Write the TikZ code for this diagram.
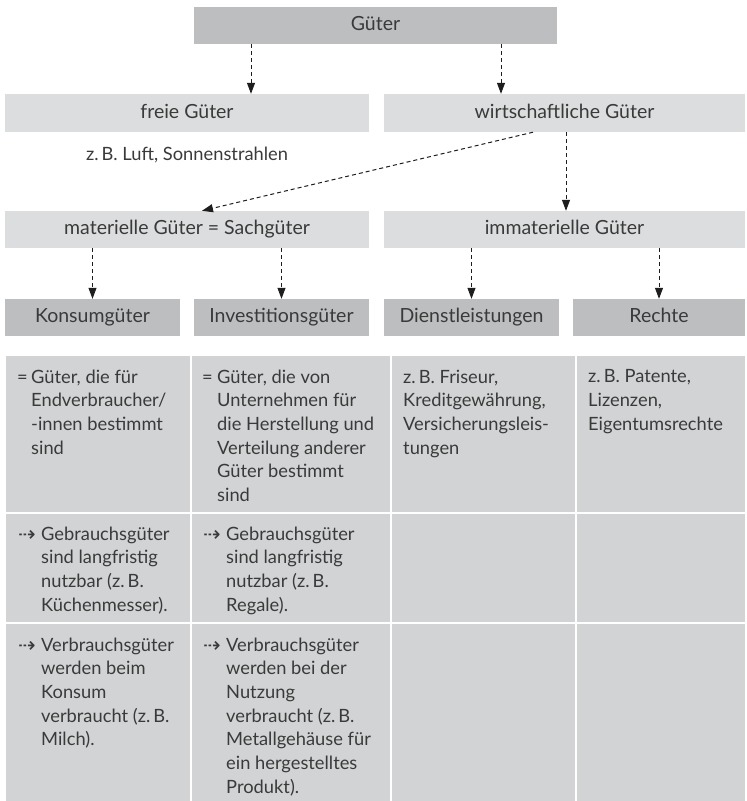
\documentclass[tikz,border=0pt]{standalone}
\usepackage{fontspec}
\setmainfont{Lato}
\newfontfamily\symfont{DejaVu Sans}
\usetikzlibrary{arrows.meta}
\definecolor{darkfill}{HTML}{BCBEC0}
\definecolor{lightfill}{HTML}{DCDDDE}
\definecolor{cellfill}{HTML}{D1D3D4}
\definecolor{ink}{HTML}{3A3A3A}
\definecolor{arrowink}{HTML}{1E1E1E}
\begin{document}
\begin{tikzpicture}[x=1pt,y=-1pt,
  lbl/.style={inner sep=0pt, text=ink, font=\fontsize{19.5}{23.7}\selectfont, text height=14pt, text depth=4pt},
  darkbox/.style={lbl, fill=darkfill},
  lightbox/.style={lbl, fill=lightfill},
  cellbox/.style={fill=cellfill, draw=none, inner sep=0pt, anchor=north west},
  txt/.style={inner sep=0pt, text=ink, font=\fontsize{18.3}{23.7}\selectfont, align=left, anchor=north west},
  sym/.style={inner sep=0pt, text=ink, font=\fontsize{18.3}{23.7}\selectfont, anchor=base west},
  arrsym/.style={inner sep=0pt, text=ink, font=\symfont\fontsize{21}{24}\selectfont, anchor=base west},
  arr/.style={draw=arrowink, line width=1pt, dash pattern=on 4pt off 3pt, -{Triangle[length=11pt,width=8pt]}}
]
\useasboundingbox (0,0) rectangle (747,801);

% hierarchy boxes
\node[darkbox, minimum width=363pt, minimum height=37pt] (guter) at (375.5,25.5) {Güter};
\node[lightbox, minimum width=364pt, minimum height=38pt] (freie) at (187,113) {freie Güter};
\node[lightbox, minimum width=361pt, minimum height=38pt] (wirt) at (564.5,113) {wirtschaftliche Güter};
\node[inner sep=0pt, text=ink, font=\fontsize{18.3}{23.7}\selectfont] (zb) at (187,155) {z.\,B. Luft, Sonnenstrahlen};
\node[lightbox, minimum width=364pt, minimum height=37pt] (mat) at (187,229.5) {materielle Güter = Sachgüter};
\node[lightbox, minimum width=361pt, minimum height=37pt] (immat) at (564.5,229.5) {immaterielle Güter};

\node[darkbox, minimum width=175pt, minimum height=37pt] (konsum) at (92.5,317.5) {Konsumgüter};
\node[darkbox, minimum width=175pt, minimum height=37pt] (invest) at (281.5,317.5) {Investitionsgüter};
\node[darkbox, minimum width=175pt, minimum height=37pt] (dienst) at (471.5,317.5) {Dienstleistungen};
\node[darkbox, minimum width=172pt, minimum height=37pt] (rechte) at (659,317.5) {Rechte};

% connector x positions
\coordinate (xa) at (251,0);
\coordinate (xb) at (501,0);
\coordinate (xc) at (566,0);
\coordinate (xd) at (533,0);
\coordinate (xe) at (202,0);

\draw[arr] (guter.south -| xa) -- (freie.north -| xa);
\draw[arr] (guter.south -| xb) -- (wirt.north -| xb);
\draw[arr] (wirt.south -| xc) -- (immat.north -| xc);
\draw[arr] (wirt.south -| xd) -- (mat.north -| xe);
\draw[arr] (mat.south -| konsum) -- (konsum.north);
\draw[arr] (mat.south -| invest) -- (invest.north);
\draw[arr] (immat.south -| dienst) -- (dienst.north);
\draw[arr] (immat.south -| rechte) -- (rechte.north);

% table cells
\node[cellbox, minimum width=184pt, minimum height=156pt] (c11) at (6,356) {};
\node[cellbox, minimum width=198pt, minimum height=156pt] (c12) at (192,356) {};
\node[cellbox, minimum width=183pt, minimum height=156pt] (c13) at (392,356) {};
\node[cellbox, minimum width=168pt, minimum height=156pt] (c14) at (577,356) {};
\node[cellbox, minimum width=184pt, minimum height=108pt] (c21) at (6,514) {};
\node[cellbox, minimum width=198pt, minimum height=108pt] (c22) at (192,514) {};
\node[cellbox, minimum width=183pt, minimum height=108pt] (c23) at (392,514) {};
\node[cellbox, minimum width=168pt, minimum height=108pt] (c24) at (577,514) {};
\node[cellbox, minimum width=184pt, minimum height=177pt] (c31) at (6,624) {};
\node[cellbox, minimum width=198pt, minimum height=177pt] (c32) at (192,624) {};
\node[cellbox, minimum width=183pt, minimum height=177pt] (c33) at (392,624) {};
\node[cellbox, minimum width=168pt, minimum height=177pt] (c34) at (577,624) {};

% row 1
\node[sym] (s11) at (17,383) {=};
\node[txt] (t11) at (31,369.5) {Güter, die für\\Endverbraucher/\\-innen bestimmt\\sind};
\node[sym] (s12) at (202,383) {=};
\node[txt] (t12) at (217,369.5) {Güter, die von\\Unternehmen für\\die Herstellung und\\Verteilung anderer\\Güter bestimmt\\sind};
\node[txt] (t13) at (403,369.5) {z.\,B. Friseur,\\Kreditgewährung,\\Versicherungsleis-\\tungen};
\node[txt] (t14) at (588,369.5) {z.\,B. Patente,\\Lizenzen,\\Eigentumsrechte};

% row 2
\node[arrsym] (s21) at (18,541) {⇢};
\node[txt] (t21) at (41,526.5) {Gebrauchsgüter\\sind langfristig\\nutzbar (z.\,B.\\Küchenmesser).};
\node[arrsym] (s22) at (203,541) {⇢};
\node[txt] (t22) at (226,526.5) {Gebrauchsgüter\\sind langfristig\\nutzbar (z.\,B.\\Regale).};

% row 3
\node[arrsym] (s31) at (18,652) {⇢};
\node[txt] (t31) at (41,637.5) {Verbrauchsgüter\\werden beim\\Konsum\\verbraucht (z.\,B.\\Milch).};
\node[arrsym] (s32) at (203,652) {⇢};
\node[txt] (t32) at (226,637.5) {Verbrauchsgüter\\werden bei der\\Nutzung\\verbraucht (z.\,B.\\Metallgehäuse für\\ein hergestelltes\\Produkt).};
\end{tikzpicture}
\end{document}
